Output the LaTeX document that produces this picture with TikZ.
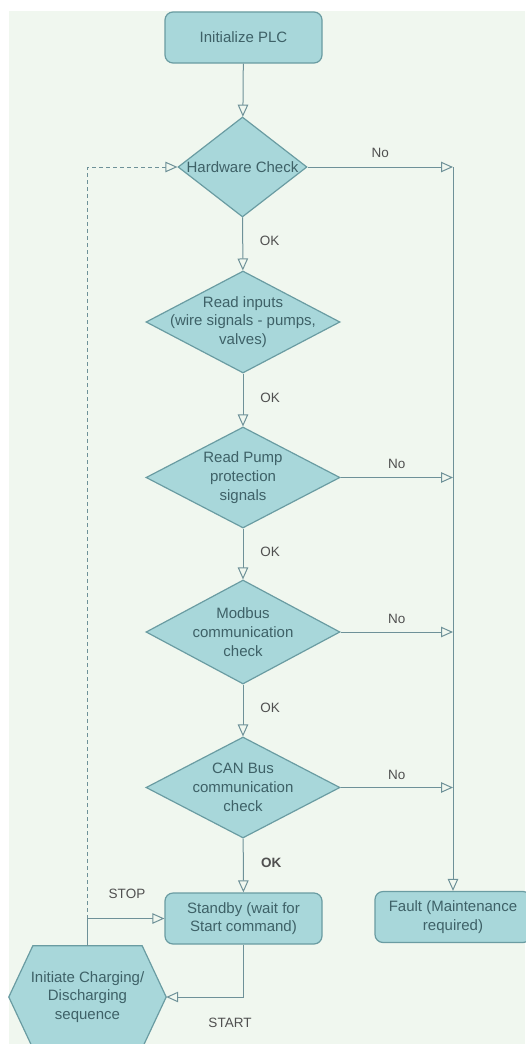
\documentclass[tikz,border=0pt]{standalone}
\usepackage{fontspec}
\setmainfont{Liberation Sans}
\usetikzlibrary{arrows.meta,shapes.geometric,backgrounds}
\definecolor{bgc}{HTML}{F0F7EF}
\definecolor{fillc}{HTML}{A8D7DA}
\definecolor{linec}{HTML}{6E9198}
\definecolor{drawc}{HTML}{6A9CA2}
\definecolor{txtc}{HTML}{3E6167}
\definecolor{lblc}{HTML}{505050}
\begin{document}
\begin{tikzpicture}[x=1pt,y=-1pt,
  shapetxt/.style={text=txtc, align=center, font=\fontsize{15}{18.7}\selectfont},
  box/.style={shapetxt, draw=drawc, fill=fillc, rounded corners=8pt, line width=1.2pt,
    minimum width=157pt, minimum height=51pt, inner sep=0pt},
  dia/.style={draw=drawc, fill=fillc, diamond, line width=1.2pt, inner sep=0pt,
    minimum width=194pt, minimum height=102pt},
  dtxt/.style={shapetxt, inner sep=0pt},
  hexn/.style={shapetxt, inner sep=0pt, minimum width=157pt, minimum height=102pt},
  arr/.style={draw=linec, line width=1pt, -{Triangle[length=12pt,width=10.5pt,fill=bgc]}},
  dasharr/.style={arr, dash pattern=on 4pt off 3pt},
  lbl/.style={text=lblc, font=\fontsize{13.5}{16}\selectfont, inner sep=0pt},
]
\useasboundingbox (0,0) rectangle (525,1044);

% nodes
\node[box] (init) at (243.5,37.5) {Initialize PLC};
\node[dia, minimum width=129pt, minimum height=100pt,
  label={[dtxt]center:{Hardware Check}}] (d1) at (242.5,167) {};
\node[dia, label={[dtxt]center:{Read inputs\\(wire signals - pumps,\\valves)}}] (d2) at (243,322) {};
\node[dia, minimum height=101pt, label={[dtxt]center:{Read Pump\\protection\\signals}}] (d3) at (243,477.5) {};
\node[dia, minimum height=104pt, label={[dtxt]center:{Modbus\\communication\\check}}] (d4) at (243,632) {};
\node[dia, minimum height=101pt, label={[dtxt]center:{CAN Bus\\communication\\check}}] (d5) at (243,787.5) {};
\node[box] (stby) at (243.5,918.5) {Standby (wait for\\Start command)};
\node[box, minimum width=156pt] (fault) at (453,917) {Fault (Maintenance\\required)};
\node[hexn] (hex) at (87.5,997) {Initiate Charging/\\Discharging\\sequence};

\coordinate (j) at (hex.north |- stby.west);
\coordinate (cA) at (fault.north |- d1.east);

% connectors
\draw[arr] (init) -- (d1);
\draw[arr] (d1) -- node[lbl, pos=0.45, xshift=27pt] (ok1) {OK} (d2);
\draw[arr] (d2) -- node[lbl, pos=0.45, xshift=27pt] (ok2) {OK} (d3);
\draw[arr] (d3) -- node[lbl, pos=0.45, xshift=27pt] (ok3) {OK} (d4);
\draw[arr] (d4) -- node[lbl, pos=0.45, xshift=27pt] (ok4) {OK} (d5);
\draw[arr] (d5) -- node[lbl, pos=0.45, xshift=28pt, font=\fontsize{13.5}{16}\selectfont\bfseries] (ok5) {OK} (stby);

\draw[arr] (d1.east) -- node[lbl, pos=0.5, yshift=14pt] (no1) {No} (cA);
\draw[arr] (cA) -- (fault.north);
\draw[arr] (d3.east) -- node[lbl, pos=0.5, yshift=14pt] (no2) {No} (fault.north |- d3.east);
\draw[arr] (d4.east) -- node[lbl, pos=0.5, yshift=13pt] (no3) {No} (fault.north |- d4.east);
\draw[arr] (d5.east) -- node[lbl, pos=0.5, yshift=13pt] (no4) {No} (fault.north |- d5.east);

\draw[arr] (hex.north) |- (stby.west);
\draw[dasharr] (j) |- (d1.west);
\draw[arr] (stby.south) |- (hex.east);

\node[lbl] (stop) at (127,894) {STOP};
\node[lbl] (start) at (230,1023) {START};

\begin{scope}[on background layer]
  \fill[bgc] (9,11) rectangle (525,1044);
  \draw[draw=drawc, fill=fillc, line width=1.2pt]
    (hex.west) -- ([xshift=24pt]hex.north west) -- ([xshift=-24pt]hex.north east)
    -- (hex.east) -- ([xshift=-24pt]hex.south east) -- ([xshift=24pt]hex.south west) -- cycle;
\end{scope}
\end{tikzpicture}
\end{document}
